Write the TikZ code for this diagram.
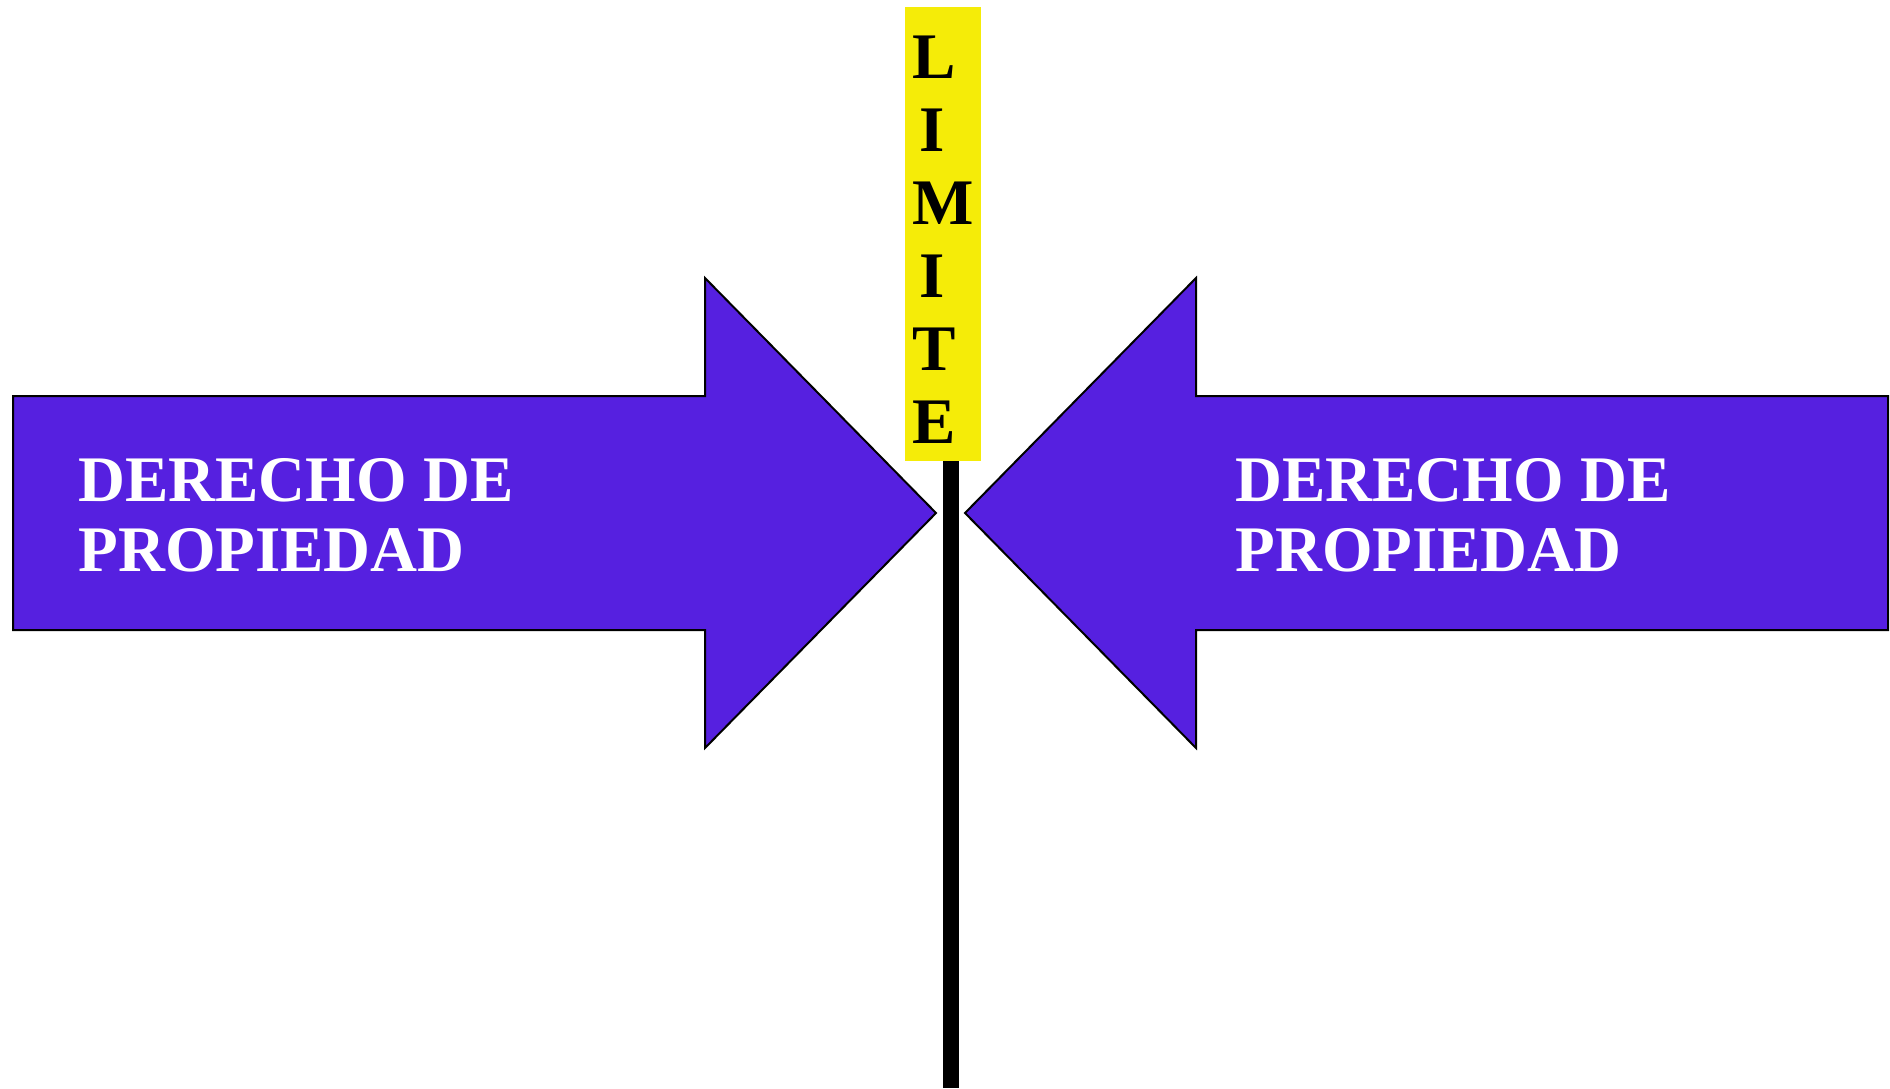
\documentclass[tikz,border=0pt]{standalone}
\usepackage{fontspec}
\setmainfont{Liberation Serif}[BoldFont={Liberation Serif Bold}]
\usepackage{tikz}
\usetikzlibrary{positioning}

\definecolor{morado}{RGB}{86,32,224}
\definecolor{amarillo}{RGB}{245,236,8}

\begin{document}
\begin{tikzpicture}[
                x=0.5pt, y=-0.5pt,
                flecha/.style={fill=morado, draw=black, line width=1pt, line join=miter},
                rotulo/.style={
                  text=white, anchor=base west, align=left, inner sep=0pt,
                  font=\bfseries\fontsize{32.5pt}{35pt}\selectfont
                },
                letrero/.style={
                  fill=amarillo, minimum width=38pt, minimum height=227pt,
                  inner sep=0pt, align=left, text height=209.5pt, text depth=0pt,
                  font=\bfseries\fontsize{32.5pt}{36.5pt}\selectfont
                },
                poste/.style={draw=black, line width=8pt}
              ]

              \useasboundingbox (0,0) rectangle (1890,1088);

              % Draw arrows
              \filldraw[flecha] (13,396) -- (705,396) -- (705,278) -- (936,513)
                -- (705,748) -- (705,630) -- (13,630) -- cycle;
              \filldraw[flecha] (1888,396) -- (1196,396) -- (1196,278) -- (965,513)
                -- (1196,748) -- (1196,630) -- (1888,630) -- cycle;

              \node (izq) [rotulo] at (78,571) {DERECHO DE\\PROPIEDAD};
              \node (der) [rotulo] at (1235,571) {DERECHO DE\\PROPIEDAD};

              % sign and post
              \node (limite) [letrero] at (943,234)
                {L\\\hspace{3.5pt}I\\M\\\hspace{3.5pt}I\\T\\E};
              \coordinate (pie) at (951,1088);
              \draw[poste] (limite.south -| pie) -- (pie);

            \end{tikzpicture}
\end{document}
